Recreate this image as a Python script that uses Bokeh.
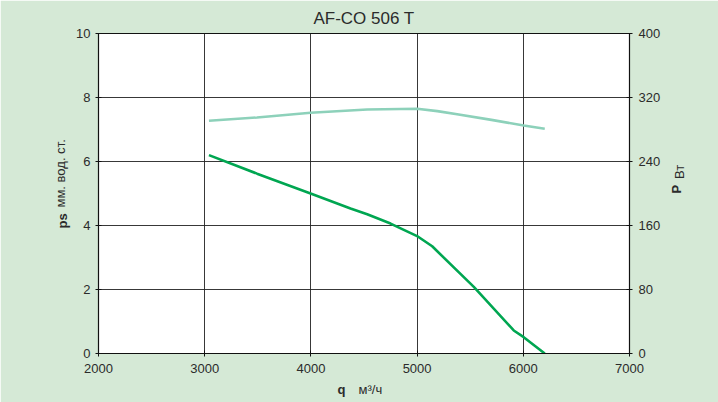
import math
from bokeh.plotting import figure
from bokeh.models import LinearAxis, Range1d, FixedTicker, Title
from bokeh.embed import file_html
from bokeh.resources import INLINE

# ---- data ----
title_text = "AF-CO 506 T"
q_ps = [3040, 3493, 3997, 4373, 4530, 4750, 5010, 5142, 5534, 5910, 6004, 6202]
ps_vals = [6.2, 5.62, 5.0, 4.53, 4.35, 4.06, 3.65, 3.35, 2.08, 0.72, 0.51, 0.0]
q_p = [3040, 3493, 3997, 4530, 5000, 5190, 5377, 5700, 6004, 6202]
p_vals = [291, 295, 301, 305, 306, 303, 299, 292, 285, 281]
x_ticks = [2000, 3000, 4000, 5000, 6000, 7000]
y_ticks = [0, 2, 4, 6, 8, 10]
p_ticks = [0, 80, 160, 240, 320, 400]

BG = "#d5e9d6"
TXT = "#2b2b2b"
FONT = "Liberation Sans"
NB = "\u00a0"

p = figure(frame_width=531, frame_height=320,
           x_range=Range1d(2000, 7000), y_range=Range1d(0, 10),
           output_backend="svg", toolbar_location=None,
           min_border_left=98, min_border_right=89,
           min_border_top=33, min_border_bottom=49)
p.background_fill_color = "white"
p.border_fill_color = BG
p.outline_line_color = "#111111"
p.outline_line_width = 1
p.extra_y_ranges = {"p": Range1d(0, 400)}

p.title.text = title_text
p.title.align = "center"
p.title.text_font = FONT
p.title.text_font_size = "17px"
p.title.text_font_style = "normal"
p.title.text_color = TXT
p.title.standoff = 12

def style_axis(ax, ticks):
    ax.ticker = FixedTicker(ticks=ticks)
    ax.axis_line_color = "#111111"
    ax.axis_line_width = 1.2
    ax.major_tick_line_color = "#111111"
    ax.major_tick_in = 3
    ax.major_tick_out = 3
    ax.minor_tick_line_color = None
    ax.major_label_text_font = FONT
    ax.major_label_text_font_size = "13px"
    ax.major_label_text_color = TXT
    ax.axis_label = None

style_axis(p.xaxis[0], x_ticks)
p.xaxis[0].major_label_standoff = 7
style_axis(p.yaxis[0], y_ticks)
p.yaxis[0].major_label_standoff = 5

right = LinearAxis(y_range_name="p")
style_axis(right, p_ticks)
right.major_label_standoff = 6
p.add_layout(right, "right")

# label-only axes on the right (bold symbol + unit, reading bottom-to-top)
def label_axis(text, bold, standoff, bounds):
    ax = LinearAxis(y_range_name="p", ticker=FixedTicker(ticks=[]), bounds=bounds)
    ax.axis_line_color = None
    ax.major_tick_line_color = None
    ax.minor_tick_line_color = None
    ax.major_tick_in = 0
    ax.major_tick_out = 0
    ax.major_label_text_font_size = "0px"
    ax.axis_label = text
    ax.axis_label_text_font = FONT
    ax.axis_label_text_font_size = "13px"
    ax.axis_label_text_font_style = "bold" if bold else "normal"
    ax.axis_label_text_color = TXT
    ax.axis_label_standoff = standoff
    ax.axis_label_orientation = math.pi / 2
    p.add_layout(ax, "right")

label_axis("P", True, 13, (170, 187.5))
label_axis(NB * 4 + "Вт", False, -15, (174, 191))

p.xgrid.ticker = FixedTicker(ticks=x_ticks)
p.ygrid.ticker = FixedTicker(ticks=y_ticks)
for g in (p.xgrid[0], p.ygrid[0]):
    g.grid_line_color = "#222222"
    g.grid_line_width = 1
    g.grid_line_alpha = 0.9

p.line(q_p, p_vals, y_range_name="p", line_color="#8dd1ba", line_width=2.6)
p.line(q_ps, ps_vals, line_color="#00a651", line_width=2.6)

# ---- axis-name texts as side titles (bold symbol + normal unit on one line) ----
def side_title(place, text, offset, standoff, bold=False, valign="bottom"):
    t = Title(text=text, align="left", offset=offset, standoff=standoff,
              vertical_align=valign, text_font=FONT, text_font_size="13px",
              text_font_style="bold" if bold else "normal", text_color=TXT)
    p.add_layout(t, place)

side_title("below", "q", 239, 9, bold=True)
side_title("below", "м³/ч", 260, -39, valign="top")
side_title("left", "ps", 125, 8, bold=True)
side_title("left", "мм. вод. ст.", 146, -38)

open("out.html", "w").write(file_html(p, INLINE))
